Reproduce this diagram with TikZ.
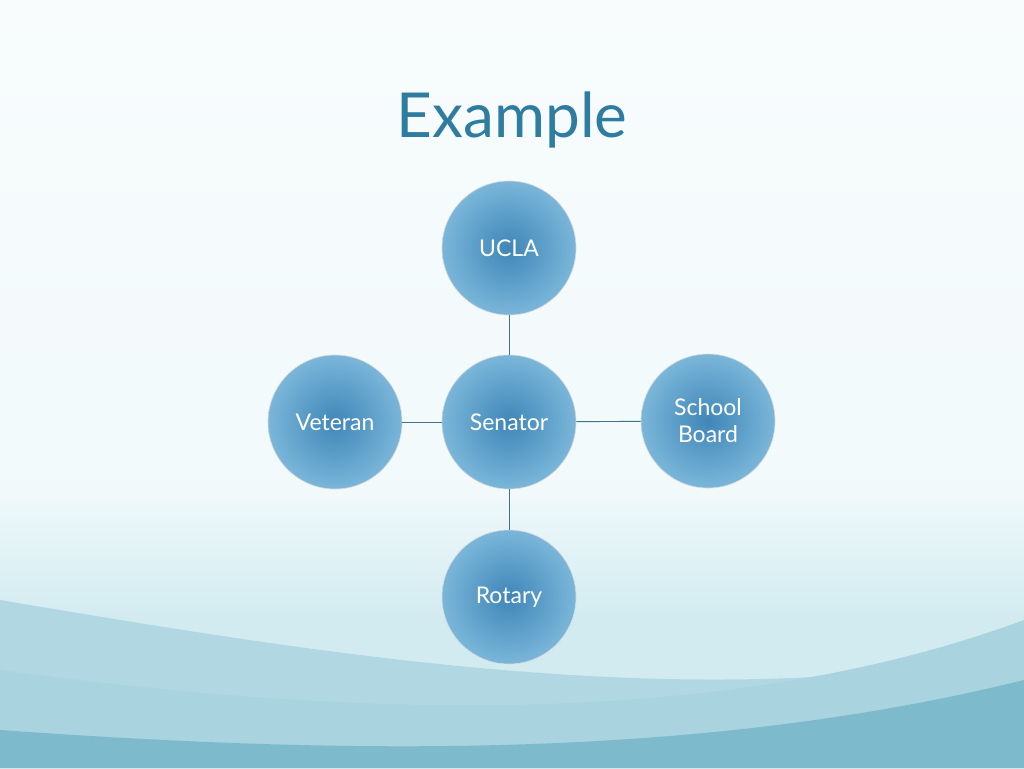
\documentclass[tikz,border=0pt]{standalone}
\usepackage{fontspec}
\setmainfont{Lato}
\begin{document}
\begin{tikzpicture}[x=1pt,y=-1pt,
  bub/.style={circle,minimum size=134pt,inner sep=0pt,draw=white!85!black,line width=0.6pt,
    inner color=bubIn,outer color=bubOut,
    text=white,font=\fontsize{23}{27}\selectfont,align=center},
  link/.style={draw=linkc,line width=0.9pt}]
\definecolor{bgA}{HTML}{F8FCFD}
\definecolor{bgB}{HTML}{EEF8FA}
\definecolor{waveA}{HTML}{D2EBF0}
\definecolor{waveB}{HTML}{A9D3DE}
\definecolor{waveC}{HTML}{7DBACB}
\definecolor{titlec}{HTML}{2E7CA0}
\definecolor{bubIn}{HTML}{3F86B8}
\definecolor{bubOut}{HTML}{7AB6D9}
\definecolor{linkc}{HTML}{3F7486}
\useasboundingbox (0,0) rectangle (1024,768);
\shade[top color=bgA,bottom color=bgB] (0,0) rectangle (1024,768);
\shade[top color=bgB,bottom color=waveA] (0,500) rectangle (1024,620);
\fill[waveA] (0,620) rectangle (1024,768);
\fill[waveB!80!waveA] (0,600) .. controls (300,650) and (700,720) .. (1024,650) -- (1024,768) -- (0,768) -- cycle;
\fill[waveB] (0,670) .. controls (300,710) and (700,740) .. (1024,620) -- (1024,768) -- (0,768) -- cycle;
\fill[waveC] (0,730) .. controls (350,755) and (700,760) .. (1024,680) -- (1024,768) -- (0,768) -- cycle;
\node[text=titlec,font=\fontsize{62}{68}\selectfont] (title) at (512,120) {Example};
\node[bub] (s) at (509,422) {Senator};
\node[bub] (u) at (509,248) {UCLA};
\node[bub] (v) at (335,422) {Veteran};
\node[bub] (b) at (708,421) {School\\Board};
\node[bub] (r) at (509,597) {Rotary};
\draw[link] (s) -- (u);
\draw[link] (s) -- (v);
\draw[link] (s) -- (b);
\draw[link] (s) -- (r);
\end{tikzpicture}
\end{document}
